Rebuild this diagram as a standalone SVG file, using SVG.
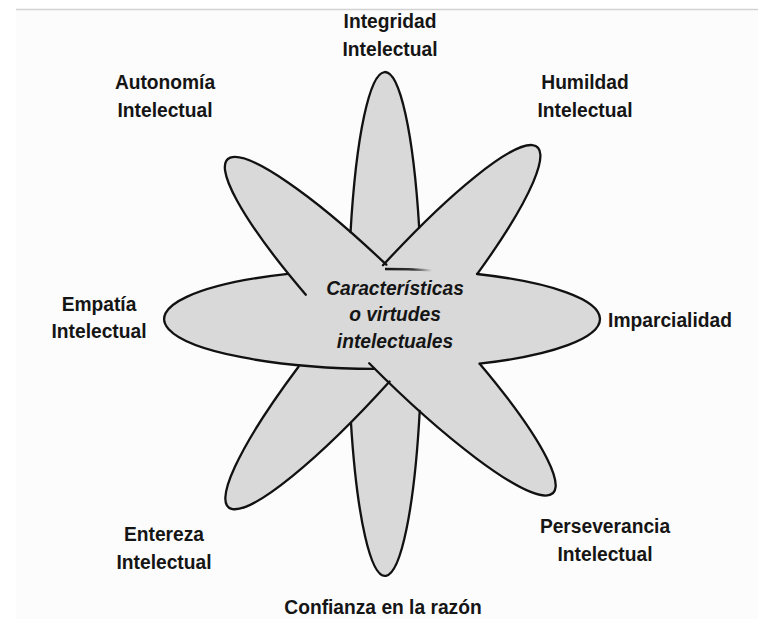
<svg xmlns="http://www.w3.org/2000/svg" width="758" height="619" viewBox="0 0 758 619">
<defs>
<style>
.petal{fill:#d9d9d9;stroke:none}
.edge{fill:none;stroke:#111;stroke-width:2.3;stroke-linecap:round}
.lbl{font-family:"Liberation Sans",Arial,sans-serif;font-weight:bold;font-size:21px;fill:#151515;text-anchor:middle}
.ctr{font-style:italic}
</style>
<linearGradient id="fade" gradientUnits="userSpaceOnUse" x1="385" y1="0" x2="432" y2="0">
<stop offset="0" stop-color="#111" stop-opacity="1"/>
<stop offset="0.6" stop-color="#111" stop-opacity="0.8"/>
<stop offset="1" stop-color="#111" stop-opacity="0"/>
</linearGradient>
</defs>
<rect x="0" y="0" width="758" height="619" fill="#ffffff"/>
<rect x="16" y="10" width="742" height="609" fill="#fcfcfc"/>
<line x1="16" y1="9.5" x2="758" y2="9.5" stroke="#d2d2d2" stroke-width="1.5"/>

<g id="flower">
<ellipse class="petal" cx="382" cy="319" rx="218" ry="50"/>
<ellipse class="petal" cx="385" cy="324" rx="37" ry="252"/>
<ellipse class="petal" cx="390" cy="326" rx="233" ry="41" transform="rotate(45.7 390 326)"/>
<ellipse class="petal" cx="383" cy="327" rx="237" ry="41" transform="rotate(-49.4 383 327)"/>
<path class="edge" d="M 350.55 232.05 A 37 252 0 0 1 419.18 227.56"/>
<path class="edge" d="M 419.72 411.0 A 37 252 0 0 1 350.97 422.86"/>
<path class="edge" d="M 288 273.9 A 218 50 0 0 0 374.5 368.97"/>
<path class="edge" d="M 477 274.0 A 218 50 0 0 1 479.5 363.72"/>
<path d="M 385 269.0 A 218 50 0 0 1 432 270.33" fill="none" stroke="url(#fade)" stroke-width="2.3"/>
<path class="edge" d="M 305.8 294.7 A 233 41 45.7 0 1 386.31 264.69"/>
<path class="edge" d="M 369.2 363.3 A 233 41 45.7 0 0 479.9 363.9"/>
<path class="edge" d="M 382.97 265.27 A 237 41 -49.4 0 1 477.3 273.9"/>
<path class="edge" d="M 298.5 366.7 A 237 41 -49.4 0 0 389.6 381.5"/>
</g>

<g id="center" transform="translate(395 0) scale(0.915 1)">
<text class="lbl ctr" x="0" y="295">Características</text>
<text class="lbl ctr" x="0" y="321.5">o virtudes</text>
<text class="lbl ctr" x="0" y="348">intelectuales</text>
</g>

<g id="integridad" transform="translate(390 0) scale(0.915 1)">
<text class="lbl" x="0" y="28">Integridad</text>
<text class="lbl" x="0" y="56">Intelectual</text>
</g>
<g id="autonomia" transform="translate(165 0) scale(0.915 1)">
<text class="lbl" x="0" y="89">Autonomía</text>
<text class="lbl" x="0" y="117">Intelectual</text>
</g>
<g id="humildad" transform="translate(585 0) scale(0.915 1)">
<text class="lbl" x="0" y="89">Humildad</text>
<text class="lbl" x="0" y="117">Intelectual</text>
</g>
<g id="empatia" transform="translate(99 0) scale(0.915 1)">
<text class="lbl" x="0" y="311">Empatía</text>
<text class="lbl" x="0" y="338">Intelectual</text>
</g>
<g id="imparcialidad" transform="translate(670 0) scale(0.915 1)">
<text class="lbl" x="0" y="327">Imparcialidad</text>
</g>
<g id="entereza" transform="translate(164 0) scale(0.915 1)">
<text class="lbl" x="0" y="541">Entereza</text>
<text class="lbl" x="0" y="569">Intelectual</text>
</g>
<g id="perseverancia" transform="translate(605 0) scale(0.915 1)">
<text class="lbl" x="0" y="533">Perseverancia</text>
<text class="lbl" x="0" y="561">Intelectual</text>
</g>
<g id="confianza" transform="translate(383 0) scale(0.915 1)">
<text class="lbl" x="0" y="614">Confianza en la razón</text>
</g>
</svg>
